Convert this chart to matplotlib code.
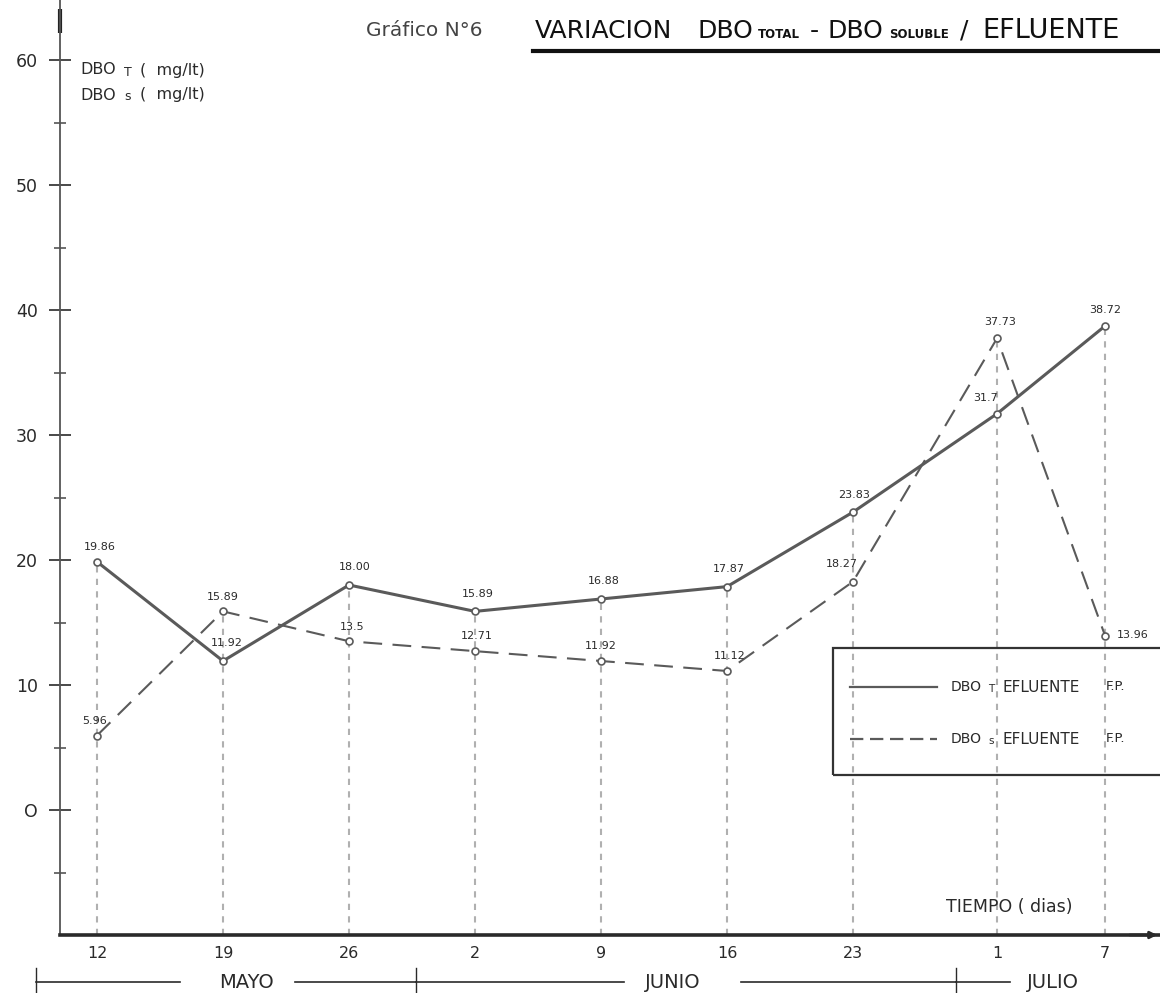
import matplotlib
matplotlib.use("Agg")
import matplotlib.pyplot as plt
from matplotlib.lines import Line2D
from matplotlib.patches import Rectangle
from matplotlib.transforms import blended_transform_factory

# ---- data -------------------------------------------------------------
days = [0, 7, 14, 21, 28, 35, 42, 50, 56]          # days counted from 12 May
day_labels = ['12', '19', '26', '2', '9', '16', '23', '1', '7']
dbo_total = [19.86, 11.92, 18.00, 15.89, 16.88, 17.87, 23.83, 31.7, 38.72]
dbo_soluble = [5.96, 15.89, 13.5, 12.71, 11.92, 11.12, 18.27, 37.73, 13.96]
total_text = ['19.86', '11.92', '18.00', '15.89', '16.88', '17.87', '23.83', '31.7', '38.72']
soluble_text = ['5.96', '15.89', '13.5', '12.71', '11.92', '11.12', '18.27', '37.73', '13.96']
months = ['MAYO', 'JUNIO', 'JULIO']
y_major = [0, 10, 20, 30, 40, 50, 60]
y_minor = [-5, 5, 15, 25, 35, 45, 55]

# label offsets (points) for the value annotations
total_off = [(2, 7), (3, 9), (4, 9), (2, 9), (2, 9), (1, 9), (1, 9), (-8, 8), (0, 8)]
soluble_off = [(-2, 7), (0, 7), (2, 7), (1, 7), (0, 7), (2, 7), (-8, 9), (2, 8), (20, 0)]

W, H = 1160, 993
fig = plt.figure(figsize=(W / 100, H / 100), dpi=100)
fig.patch.set_facecolor('white')

AX_LEFT, AX_BOTTOM = 60, 935
ax = fig.add_axes([AX_LEFT / W, (H - AX_BOTTOM) / H, 1 - AX_LEFT / W, AX_BOTTOM / H])
ax.set_xlim(-(97 - AX_LEFT) / 18.0, (W - 97) / 18.0)
ax.set_ylim(-10, 64.8)
ax.set_facecolor('none')

INK = '#2a2a2a'
LINE = '#5a5a5a'
GUIDE = '#b0b0b0'

for s in ['top', 'right']:
    ax.spines[s].set_visible(False)
ax.spines['left'].set_color('#555555')
ax.spines['left'].set_linewidth(1.3)
ax.spines['bottom'].set_color(INK)
ax.spines['bottom'].set_linewidth(2.6)

# ---- ticks ------------------------------------------------------------
ax.set_yticks(y_major)
ax.set_yticklabels(['O' if v == 0 else str(v) for v in y_major],
                   fontsize=12.5, color=INK)
ax.set_yticks(y_minor, minor=True)
ax.tick_params(axis='y', which='major', direction='inout', length=16,
               width=1.2, color=INK, pad=8)
ax.tick_params(axis='y', which='minor', direction='inout', length=9,
               width=1.2, color='#555555')
ax.set_xticks(days)
ax.set_xticklabels(day_labels, fontsize=11.5, color=INK)
ax.tick_params(axis='x', length=0, pad=8)

# ---- vertical guide lines down to the time axis ------------------------
for d, t, s in zip(days, dbo_total, dbo_soluble):
    ax.plot([d, d], [-10, max(t, s)], color=GUIDE, lw=1.5,
            linestyle=(0, (3, 3)), zorder=1)

# ---- series -----------------------------------------------------------
ax.plot(days, dbo_total, color=LINE, lw=2.2, marker='o', ms=5,
        mfc='white', mec=LINE, mew=1.2, zorder=3)
ax.plot(days, dbo_soluble, color=LINE, lw=1.5, linestyle=(0, (9, 5)),
        marker='o', ms=5, mfc='white', mec=LINE, mew=1.2, zorder=3)

for d, v, txt, off in zip(days, dbo_total, total_text, total_off):
    ax.annotate(txt, (d, v), xytext=off, textcoords='offset points',
                ha='center', va='bottom', fontsize=8, color=INK)
for d, v, txt, off in zip(days, dbo_soluble, soluble_text, soluble_off):
    ax.annotate(txt, (d, v), xytext=off, textcoords='offset points',
                ha='center', va='bottom' if off[1] else 'center',
                fontsize=8, color=INK)

# ---- axis ends ----------------------------------------------------------
ax.plot([0, 0], [0.965, 0.99], transform=ax.transAxes, color='#222222',
        lw=3.0, clip_on=False, solid_capstyle='butt')
ax.annotate('', xy=(1.0, 0), xycoords='axes fraction', xytext=(0.97, 0),
            arrowprops=dict(arrowstyle='-|>', color=INK, lw=2,
                            mutation_scale=10))


def fx(px):
    return px / W


def fy(py):
    return 1 - py / H


# ---- axis captions ----------------------------------------------------
for py, sub in [(70, 'T'), (95, 's')]:
    fig.text(fx(80), fy(py), 'DBO', fontsize=11.5, color=INK, va='center', ha='left')
    fig.text(fx(124), fy(py + 2), sub, fontsize=9, color=INK, va='center', ha='left')
    fig.text(fx(140), fy(py), '(  mg/lt)', fontsize=11.5, color=INK, va='center', ha='left')
fig.text(fx(946), fy(907), 'TIEMPO ( dias)', fontsize=12.5, color=INK,
         va='center', ha='left')

# ---- title ------------------------------------------------------------
fig.text(fx(366), fy(30), 'Gráfico N°6', fontsize=14.5, color='#444444',
         va='center', ha='left')
title_parts = [(535, 'VARIACION', 18, 'normal'), (697, 'DBO', 18, 'normal'),
               (758, 'TOTAL', 8.5, 'bold'), (810, '-', 18, 'normal'),
               (828, 'DBO', 18, 'normal'), (889, 'SOLUBLE', 8.5, 'bold'),
               (960, '/', 18, 'normal'), (982, 'EFLUENTE', 19.5, 'normal')]
for px, txt, size, wt in title_parts:
    fig.text(fx(px), fy(31) if size > 10 else fy(34), txt, fontsize=size,
             color='#111111', va='center', ha='left', fontweight=wt)
fig.add_artist(Line2D([fx(533), fx(1160)], [fy(51), fy(51)],
                      color='#111111', lw=3.0))

# ---- month brackets under the time axis ---------------------------------
trans = blended_transform_factory(ax.transData, fig.transFigure)
bracket_y = fy(982)
segments = [(-3.4, 4.6), (11.0, 17.7), (17.7, 29.3), (35.8, 47.7), (47.7, 50.7)]
for a, b in segments:
    ax.add_line(Line2D([a, b], [bracket_y, bracket_y], transform=trans,
                       color=INK, lw=1.2, clip_on=False))
for b in [-3.4, 17.7, 47.7]:
    ax.add_line(Line2D([b, b], [fy(968), fy(993)], transform=trans,
                       color=INK, lw=1.0, clip_on=False))
for name, pos in zip(months, [8.3, 32.0, 53.1]):
    ax.text(pos, fy(982), name, transform=trans, fontsize=14, color=INK,
            ha='center', va='center', clip_on=False)

# ---- legend box -------------------------------------------------------
fig.add_artist(Rectangle((fx(833), fy(775)), fx(1170) - fx(833),
                         fy(648) - fy(775), transform=fig.transFigure,
                         fill=False, edgecolor='#333333', lw=1.6))
fig.add_artist(Line2D([fx(850), fx(937)], [fy(687), fy(687)], color=LINE, lw=1.6))
fig.add_artist(Line2D([fx(850), fx(937)], [fy(739), fy(739)], color=LINE,
                      lw=1.6, linestyle=(0, (6, 3))))
for py, sub in [(687, 'T'), (739, 's')]:
    fig.text(fx(951), fy(py), 'DBO', fontsize=10, color=INK, va='center', ha='left')
    fig.text(fx(988), fy(py + 2), sub, fontsize=7.5, color=INK, va='center', ha='left')
    fig.text(fx(1002), fy(py), 'EFLUENTE', fontsize=11, color=INK, va='center', ha='left')
    fig.text(fx(1106), fy(py), 'F.P.', fontsize=9.5, color=INK, va='center', ha='left')

fig.savefig('out.png', dpi=100, facecolor='white')
